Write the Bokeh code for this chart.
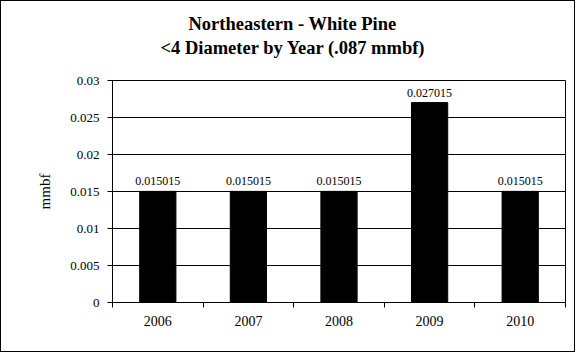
from bokeh.plotting import figure
from bokeh.models import Range1d, FixedTicker, Title
from bokeh.core.properties import value
from bokeh.embed import file_html
from bokeh.resources import INLINE

years = ["2006", "2007", "2008", "2009", "2010"]
values = [0.015015, 0.015015, 0.015015, 0.027015, 0.015015]
value_labels = ["0.015015", "0.015015", "0.015015", "0.027015", "0.015015"]
y_ticks = [0, 0.005, 0.01, 0.015, 0.02, 0.025, 0.03]
y_tick_labels = ["0", "0.005", "0.01", "0.015", "0.02", "0.025", "0.03"]
title_line1 = "Northeastern - White Pine"
title_line2 = "<4 Diameter by Year (.087 mmbf)"
y_label = "mmbf"

FONT = "Liberation Serif"

p = figure(width=575, height=352, output_backend="svg", toolbar_location=None,
           title=None, x_range=Range1d(0, len(years)), y_range=Range1d(0, 0.03),
           min_border_left=111, min_border_right=11, min_border_top=79, min_border_bottom=51)
p.styles = {"border": "1px solid black"}

p.outline_line_color = "black"
p.border_fill_color = "white"
p.background_fill_color = "white"

xs = [i + 0.5 for i in range(len(years))]
p.vbar(x=xs, top=values, width=0.4, fill_color="black", line_color="black")
p.text(x=xs, y=values, text=value_labels, text_font=value(FONT), text_font_size="12px",
       text_align="center", text_baseline="alphabetic", y_offset=-10, text_color="black")

# x axis
p.xaxis.ticker = FixedTicker(ticks=xs, minor_ticks=list(range(len(years) + 1)))
p.xaxis.major_label_overrides = {x: y for x, y in zip(xs, years)}
p.xaxis.major_tick_out = 0
p.xaxis.major_tick_in = 0
p.xaxis.minor_tick_out = 5
p.xaxis.minor_tick_in = 0
p.xaxis.minor_tick_line_color = "black"
p.xaxis.axis_line_color = "black"
p.xaxis.major_label_text_font = FONT
p.xaxis.major_label_text_font_size = "14px"
p.xaxis.major_label_text_color = "black"
p.xaxis.major_label_standoff = 8

# y axis
p.yaxis.ticker = FixedTicker(ticks=y_ticks)
p.yaxis.major_label_overrides = {t: l for t, l in zip(y_ticks, y_tick_labels)}
p.yaxis.major_tick_out = 5
p.yaxis.major_tick_in = 0
p.yaxis.minor_tick_line_color = None
p.yaxis.axis_line_color = "black"
p.yaxis.major_tick_line_color = "black"
p.yaxis.major_label_text_font = FONT
p.yaxis.major_label_text_font_size = "13px"
p.yaxis.major_label_text_color = "black"
p.yaxis.major_label_standoff = 8
p.yaxis.axis_label = y_label
p.yaxis.axis_label_text_font = FONT
p.yaxis.axis_label_text_font_size = "15px"
p.yaxis.axis_label_text_font_style = "normal"
p.yaxis.axis_label_text_color = "black"
p.yaxis.axis_label_standoff = 14

p.xgrid.grid_line_color = None
p.ygrid.ticker = FixedTicker(ticks=y_ticks)
p.ygrid.grid_line_color = "black"
p.ygrid.grid_line_width = 1

# spacer between the frame and the second title line
p.add_layout(Title(text=" ", text_font_size="2px", standoff=19), "above")
p.add_layout(Title(text=title_line2, text_font=FONT, text_font_size="18.5px",
                   text_font_style="bold", align="left", offset=48, text_color="black",
                   vertical_align="bottom", standoff=0), "above")
p.add_layout(Title(text=title_line1, text_font=FONT, text_font_size="18.5px",
                   text_font_style="bold", align="left", offset=76, text_color="black",
                   vertical_align="top", standoff=0), "above")

open("out.html", "w").write(file_html(p, INLINE))
